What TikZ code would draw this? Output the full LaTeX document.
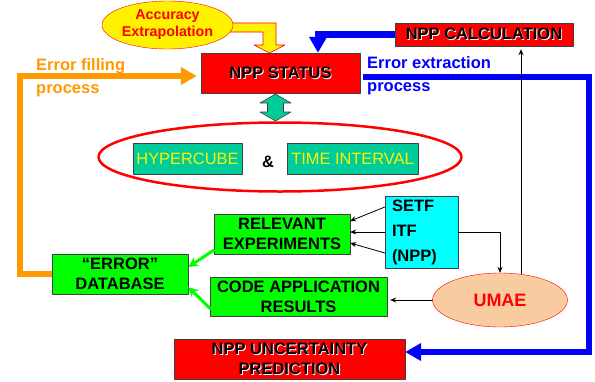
\documentclass[tikz,border=0pt]{standalone}
\usepackage{fontspec}
\setmainfont{Liberation Sans}
\usetikzlibrary{shapes.geometric,arrows.meta}
\definecolor{fillorange}{HTML}{FF9900}
\definecolor{extrblue}{HTML}{0000FF}
\definecolor{expgreen}{HTML}{00FF00}
\definecolor{cubeteal}{HTML}{00CC99}
\definecolor{setfcyan}{HTML}{00FFFF}
\definecolor{umaepeach}{HTML}{F9CBA0}
\definecolor{boxedge}{HTML}{404040}
\newcommand{\embossed}[1]{\makebox[0pt][l]{\hspace{0.9pt}\raisebox{-0.9pt}{\color{white}#1}}#1}
\begin{document}
\begin{tikzpicture}[line cap=round,line join=round,>=stealth,x=1pt,y=-1pt,
		nppbox/.style={draw=boxedge,fill=red,inner sep=0,align=center,font=\fontsize{16.5}{20}\selectfont\bfseries},
		expbox/.style={draw=boxedge,fill=expgreen,inner sep=0,align=center,font=\fontsize{16.5}{20}\selectfont\bfseries},
		cubebox/.style={draw=boxedge,fill=cubeteal,text=yellow,inner sep=0,minimum height=31,font=\fontsize{16.4}{20}\selectfont},
		flowtext/.style={anchor=north west,inner sep=0,align=left,font=\fontsize{16.5}{23}\selectfont\bfseries},
		flowline/.style={line width=6.5pt,line cap=butt,line join=miter,-{Triangle[length=16pt,width=17pt]}},
		smallarrow/.style={line width=0.8pt,-{Stealth[length=6pt,width=5pt]}},
		greenarrow/.style={draw=expgreen,line width=3pt,-{Stealth[length=10pt,width=10pt]}}]
	\useasboundingbox (0,0) rectangle (595,381);
	\filldraw[fill=yellow,draw=red,line width=0.6pt] (225,23) -- (276,23) -- (276,45) -- (285,45) -- (269.5,53) -- (254,45) -- (263,45) -- (263,32) -- (225,32) -- cycle;
	\node[ellipse,draw=red,fill=yellow,text=red,minimum width=131,minimum height=48,inner sep=0,align=center,font=\fontsize{14.3}{17}\selectfont\bfseries] (accuracy) at (167.5,25) {Accuracy\\Extrapolation};
	\node[nppbox,minimum width=159,minimum height=40] (status) at (280.5,73) {\embossed{NPP STATUS}};
	\node[nppbox,minimum width=178,minimum height=23] (calc) at (484,34.5) {\embossed{NPP CALCULATION}};
	\node[flowtext,text=fillorange] (filltext) at (36,58) {Error filling\\process};
	\node[flowtext,text=extrblue] (extrtext) at (367,56) {Error extraction\\process};
	\filldraw[fill=cubeteal,draw=boxedge,line width=0.6pt] (267.5,103) -- (260,103) -- (275.5,94) -- (291,103) -- (283.5,103) -- (283.5,112) -- (291,112) -- (275.5,121) -- (260,112) -- (267.5,112) -- cycle;
	\node[ellipse,draw=red,line width=2.5pt,minimum width=363,minimum height=69] (cubeoval) at (280,157) {};
	\node[cubebox,minimum width=109] (hyper) at (187.5,158.5) {HYPERCUBE};
	\node[anchor=base,font=\fontsize{16.5}{20}\selectfont\bfseries] (amp) at (268,167) {\&};
	\node[cubebox,minimum width=131] (interval) at (352.5,158.5) {TIME INTERVAL};
	\node[expbox,minimum width=136,minimum height=40] (relevant) at (282,234) {RELEVANT\\EXPERIMENTS};
	\node[draw=boxedge,fill=setfcyan,minimum width=73,minimum height=72,inner sep=0,text width=59,align=left,font=\fontsize{16.5}{25}\selectfont\bfseries] (setf) at (421.5,232) {SETF\\ITF\\(NPP)};
	\node[expbox,minimum width=177,minimum height=39] (code) at (298.5,296.5) {CODE APPLICATION\\RESULTS};
	\node[expbox,minimum width=136,minimum height=40] (database) at (120,274) {“ERROR”\\DATABASE};
	\node[ellipse,draw=red,fill=umaepeach,text=red,minimum width=135,minimum height=54,inner sep=0,font=\fontsize{18}{20}\selectfont\bfseries] (umae) at (500,300) {UMAE};
	\node[nppbox,minimum width=231,minimum height=40] (uncert) at (289.5,359) {\embossed{NPP UNCERTAINTY}\\\embossed{PREDICTION}};
	\coordinate (fillcorner) at (20,76);
	\coordinate (extrcorner) at (589,77);
	\draw[flowline,draw=fillorange] (database.west) -| (fillcorner) -- ([shift={(-4,3)}]status.west);
	\draw[flowline,draw=extrblue] (calc.west) -| ([shift={(37.5,0)}]status.north);
	\draw[flowline,draw=extrblue] ([shift={(3,4)}]status.east) -- (extrcorner) |- ([shift={(0,-7)}]uncert.east);
	\draw[smallarrow] ([shift={(0,-25)}]setf.west) -- ([shift={(0,-13)}]relevant.east);
	\draw[smallarrow] (setf.west) -- (setf.west -| relevant.east);
	\draw[smallarrow] ([shift={(0,21)}]setf.west) -- ([shift={(0,9)}]relevant.east);
	\draw[smallarrow] (setf.east) -| (umae.north);
	\draw[smallarrow,shorten >=3pt] ([shift={(21,1)}]umae.north) -- ([shift={(37,0)}]calc.south);
	\draw[smallarrow,shorten >=3pt] (umae.west) -- (umae.west -| code.east);
	\draw[greenarrow] ([shift={(0,-4)}]relevant.south west) -- ([shift={(0,-7)}]database.east);
	\draw[greenarrow] ([shift={(0,-8)}]code.south west) -- ([shift={(0,13)}]database.east);
\end{tikzpicture}
\end{document}
